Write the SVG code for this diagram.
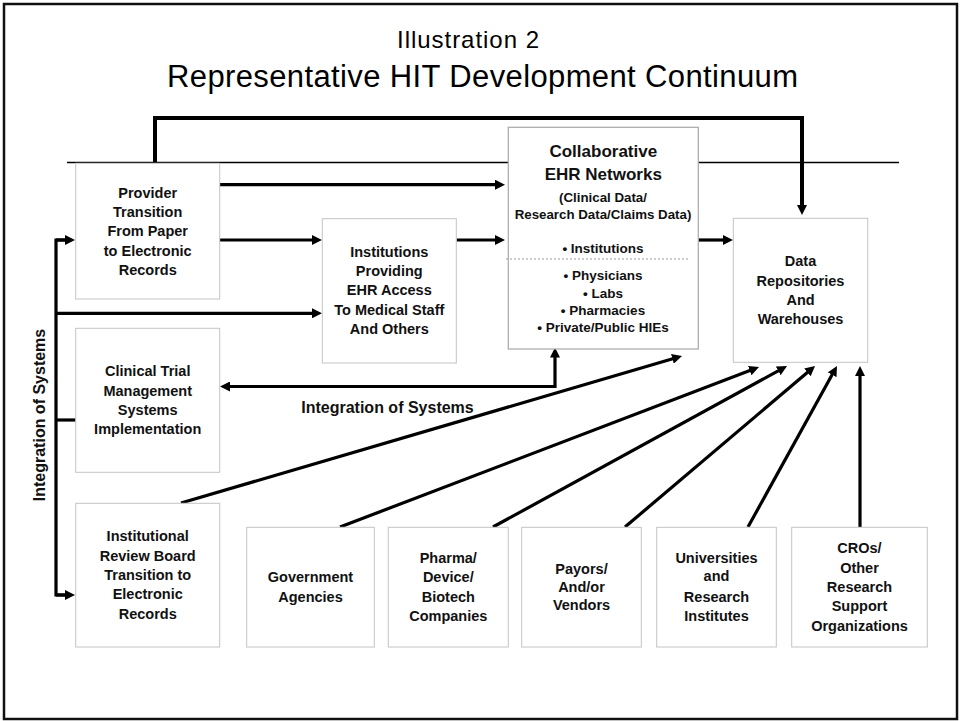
<svg xmlns="http://www.w3.org/2000/svg" width="960" height="721" viewBox="0 0 960 721">
  <style>
    .box { fill: #ffffff; stroke: #c4c4c4; stroke-width: 1; }
    .box-dark { fill: #ffffff; stroke: #a8a8a8; stroke-width: 1.2; }
    .lbl { font-family: "Liberation Sans", Arial, sans-serif; font-weight: bold; font-size: 14.5px; fill: #111111; text-anchor: middle; }
    .lbl.big { font-size: 17px; }
    .lbl.mid { font-size: 13.3px; }
    .lbl.list { font-size: 13.5px; }
    .lbl.side { font-size: 16px; }
    .title { font-family: "Liberation Sans", Arial, sans-serif; fill: #000000; text-anchor: middle; }
    .wire { fill: none; stroke: #000000; stroke-width: 3.2; stroke-linejoin: miter; }
    .arrow { fill: none; stroke: #000000; stroke-width: 3.2; marker-end: url(#head); }
  </style>
  <defs>
    <marker id="head" viewBox="0 0 10 10" refX="3" refY="5" markerWidth="10" markerHeight="10" markerUnits="userSpaceOnUse" orient="auto-start-reverse">
      <path d="M0,0 L10,5 L0,10 z" fill="#000000"/>
    </marker>
  </defs>

  <rect width="960" height="721" fill="#ffffff"/>
  <!-- page frame -->
  <rect x="4" y="4" width="953" height="715" fill="none" stroke="#111111" stroke-width="2.5"/>

  <!-- headings -->
  <text class="title" x="468" y="48" font-size="24" textLength="142">Illustration 2</text>
  <text class="title" x="482.5" y="87" font-size="31" textLength="631">Representative HIT Development Continuum</text>

  <!-- rule under heading -->
  <line x1="67" y1="162.5" x2="899" y2="162.5" stroke="#000000" stroke-width="1.3"/>

  <g id="connectors">
    <!-- overarching path from provider side to repositories -->
    <path d="M155,162 L155,118 L802,118 L802,208" fill="none" stroke="#000000" stroke-width="4" marker-end="url(#head)"/>
    <!-- provider -> collaborative networks -->
    <path class="arrow" d="M220,184.7 L498,184.7"/>
    <!-- provider -> institutions -->
    <path class="arrow" d="M220,240 L315,240"/>
    <!-- institutions -> collaborative networks -->
    <path class="arrow" d="M456.5,240 L498,240"/>
    <!-- collaborative networks -> repositories -->
    <path class="arrow" d="M698.5,240 L726,240"/>
    <!-- integration bus on the left -->
    <path class="wire" d="M68,240 L56,240 L56,595 L68,595"/>
    <path class="arrow" d="M56,240 L68,240"/>
    <path class="arrow" d="M56,595 L68,595"/>
    <path class="arrow" d="M56,313.3 L315,313.3"/>
    <path class="wire" d="M56,420 L76,420" stroke-width="4"/>
    <!-- clinical trial systems <-> collaborative networks -->
    <path class="arrow" d="M227,386.5 L555,386.5 L555,354.5" marker-start="url(#head)"/>
    <!-- IRB -> collaborative networks -->
    <path class="arrow" d="M181,503 L675.3,358"/>
    <!-- feeders into repositories -->
    <path class="arrow" d="M340,527 L752.5,369.5"/>
    <path class="arrow" d="M493,527 L780.9,369.4"/>
    <path class="arrow" d="M625,527 L809.7,370.5"/>
    <path class="arrow" d="M748,527 L833.6,372.1"/>
    <path class="arrow" d="M860,527 L860,373"/>
  </g>

  <text class="lbl side" x="387.5" y="413.3">Integration of Systems</text>
  <text class="lbl side" x="0" y="0" transform="translate(45,415) rotate(-90)">Integration of Systems</text>

  <g id="provider">
    <rect class="box" x="75.7" y="163.3" width="144" height="135.7"/>
    <text class="lbl"><tspan x="147.7" y="198">Provider</tspan><tspan x="147.7" y="217.2">Transition</tspan><tspan x="147.7" y="236">From Paper</tspan><tspan x="147.7" y="255.5">to Electronic</tspan><tspan x="147.7" y="274.5">Records</tspan></text>
  </g>

  <g id="institutions">
    <rect class="box" x="322.3" y="218.7" width="134" height="144.3"/>
    <text class="lbl"><tspan x="389.3" y="257.2">Institutions</tspan><tspan x="389.3" y="276.2">Providing</tspan><tspan x="389.3" y="295.3">EHR Access</tspan><tspan x="389.3" y="314.5">To Medical Staff</tspan><tspan x="389.3" y="333.5">And Others</tspan></text>
  </g>

  <g id="collaborative">
    <rect class="box-dark" x="508.3" y="127.3" width="190" height="221.7"/>
    <text class="lbl big"><tspan x="603.3" y="157">Collaborative</tspan><tspan x="603.3" y="179.5">EHR Networks</tspan></text>
    <text class="lbl mid"><tspan x="603" y="201.5">(Clinical Data/</tspan><tspan x="603" y="218.5">Research Data/Claims Data)</tspan></text>
    <text class="lbl list"><tspan x="603" y="253.3">• Institutions</tspan></text>
    <line x1="506" y1="259" x2="688" y2="259" stroke="#9a9a9a" stroke-width="1" stroke-dasharray="2,2"/>
    <text class="lbl list"><tspan x="603" y="280">• Physicians</tspan><tspan x="603" y="298">• Labs</tspan><tspan x="603" y="315">• Pharmacies</tspan><tspan x="603" y="332.3">• Private/Public HIEs</tspan></text>
  </g>

  <g id="repositories">
    <rect class="box" x="733.3" y="218.3" width="134.4" height="144"/>
    <text class="lbl"><tspan x="800.5" y="266.2">Data</tspan><tspan x="800.5" y="286">Repositories</tspan><tspan x="800.5" y="304.7">And</tspan><tspan x="800.5" y="324">Warehouses</tspan></text>
  </g>

  <g id="clinical-trial">
    <rect class="box" x="75.7" y="328.3" width="144" height="144"/>
    <text class="lbl"><tspan x="147.7" y="375.8">Clinical Trial</tspan><tspan x="147.7" y="395.8">Management</tspan><tspan x="147.7" y="414.5">Systems</tspan><tspan x="147.7" y="433.8">Implementation</tspan></text>
  </g>

  <g id="irb">
    <rect class="box" x="75.7" y="503.3" width="144" height="143.7"/>
    <text class="lbl"><tspan x="147.7" y="541.2">Institutional</tspan><tspan x="147.7" y="560.5">Review Board</tspan><tspan x="147.7" y="579.8">Transition to</tspan><tspan x="147.7" y="598.8">Electronic</tspan><tspan x="147.7" y="618.8">Records</tspan></text>
  </g>

  <g id="government">
    <rect class="box" x="246.7" y="527.3" width="127.6" height="119.7"/>
    <text class="lbl"><tspan x="310.5" y="581.8">Government</tspan><tspan x="310.5" y="601.8">Agencies</tspan></text>
  </g>

  <g id="pharma">
    <rect class="box" x="388.3" y="527.3" width="120" height="119.7"/>
    <text class="lbl"><tspan x="448.3" y="562.5">Pharma/</tspan><tspan x="448.3" y="581.8">Device/</tspan><tspan x="448.3" y="601.8">Biotech</tspan><tspan x="448.3" y="620.5">Companies</tspan></text>
  </g>

  <g id="payors">
    <rect class="box" x="521.7" y="527.3" width="119.6" height="119.7"/>
    <text class="lbl"><tspan x="581.5" y="574.2">Payors/</tspan><tspan x="581.5" y="591.5">And/or</tspan><tspan x="581.5" y="609.5">Vendors</tspan></text>
  </g>

  <g id="universities">
    <rect class="box" x="656.7" y="527.3" width="119.6" height="119.7"/>
    <text class="lbl"><tspan x="716.5" y="562.5">Universities</tspan><tspan x="716.5" y="581.2">and</tspan><tspan x="716.5" y="601.5">Research</tspan><tspan x="716.5" y="620.5">Institutes</tspan></text>
  </g>

  <g id="cros">
    <rect class="box" x="791.7" y="527.3" width="135.6" height="119.7"/>
    <text class="lbl"><tspan x="859.5" y="552.8">CROs/</tspan><tspan x="859.5" y="572.8">Other</tspan><tspan x="859.5" y="591.8">Research</tspan><tspan x="859.5" y="610.8">Support</tspan><tspan x="859.5" y="630.5">Organizations</tspan></text>
  </g>
</svg>
